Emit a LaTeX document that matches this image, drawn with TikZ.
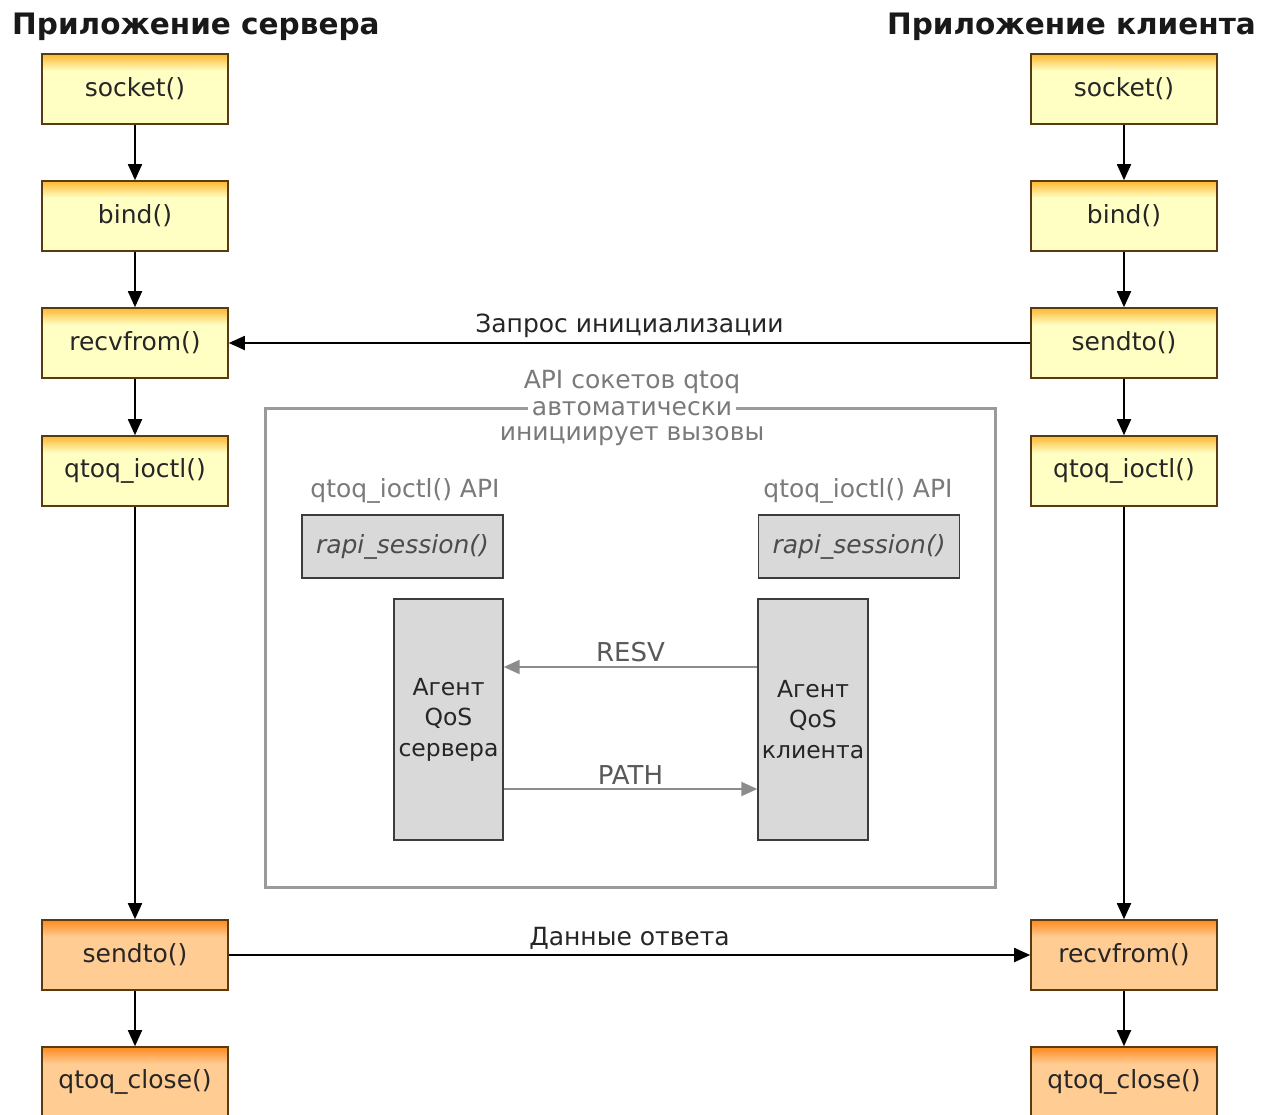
\documentclass[tikz,border=0pt]{standalone}
\usepackage{fontspec}
\setmainfont{DejaVu Sans}
\usetikzlibrary{arrows.meta}
\definecolor{ylight}{HTML}{FFFFC4}
\definecolor{yedge}{HTML}{FFB830}
\definecolor{olight}{HTML}{FFCC94}
\definecolor{oedge}{HTML}{FF8A1E}
\definecolor{bstroke}{HTML}{5A3A10}
\definecolor{gfill}{HTML}{D9D9D9}
\definecolor{gstroke}{HTML}{3C3C3C}
\definecolor{frame}{HTML}{9A9A9A}
\definecolor{gtext}{HTML}{7A7A7A}
\definecolor{garrow}{HTML}{8C8C8C}
\pgfdeclareverticalshading{yglow}{100bp}{color(0bp)=(ylight); color(25bp)=(ylight); color(63bp)=(ylight); color(75bp)=(yedge); color(100bp)=(yedge)}
\pgfdeclareverticalshading{oglow}{100bp}{color(0bp)=(olight); color(25bp)=(olight); color(63bp)=(olight); color(75bp)=(oedge); color(100bp)=(oedge)}
\begin{document}
\begin{tikzpicture}[x=1pt,y=-1pt,
  fbox/.style={draw=bstroke, line width=1.6pt, minimum width=186pt, minimum height=70pt, inner sep=0pt, font=\fontsize{25}{28}\selectfont, text=black!85},
  ybox/.style={fbox, shading=yglow},
  obox/.style={fbox, shading=oglow},
  arr/.style={line width=1.8pt, -{Triangle[width=14pt,length=16pt]}},
  garr/.style={draw=garrow, line width=2pt, -{Triangle[width=14pt,length=16pt]}, garrow},
  gbox/.style={draw=gstroke, fill=gfill, line width=1.4pt, inner sep=0pt},
  heading/.style={font=\bfseries\fontsize{29.5}{32}\selectfont, text=black!90, inner sep=0pt},
  lbl/.style={font=\fontsize{25}{28}\selectfont, text=black!85, inner sep=0pt},
  glbl/.style={font=\fontsize{25}{28}\selectfont, text=gtext, inner sep=0pt},
]
\useasboundingbox[fill=white] (0,0) rectangle (1268,1114);

% headings
\node[heading, anchor=west] (hs) at (12,27) {Приложение сервера};
\node[heading, anchor=east] (hc) at (1256,27) {Приложение клиента};

% server column
\node[ybox] (s1) at (135,89) {socket()};
\node[ybox] (s2) at (135,216) {bind()};
\node[ybox] (s3) at (135,343) {recvfrom()};
\node[ybox] (s4) at (135,471) {qtoq\_ioctl()};
\node[obox] (s5) at (135,955) {sendto()};
\node[obox] (s6) at (135,1082) {qtoq\_close()};

% client column
\node[ybox] (c1) at (1124,89) {socket()};
\node[ybox] (c2) at (1124,216) {bind()};
\node[ybox] (c3) at (1124,343) {sendto()};
\node[ybox] (c4) at (1124,471) {qtoq\_ioctl()};
\node[obox] (c5) at (1124,955) {recvfrom()};
\node[obox] (c6) at (1124,1082) {qtoq\_close()};

\draw[arr] (s1) -- (s2);
\draw[arr] (s2) -- (s3);
\draw[arr] (s3) -- (s4);
\draw[arr] (s4) -- (s5);
\draw[arr] (s5) -- (s6);
\draw[arr] (c1) -- (c2);
\draw[arr] (c2) -- (c3);
\draw[arr] (c3) -- (c4);
\draw[arr] (c4) -- (c5);
\draw[arr] (c5) -- (c6);

\draw[arr] (c3.west) -- node[lbl, above=4pt] {Запрос инициализации} (s3.east);
\draw[arr] (s5.east) -- node[lbl, above=5pt] {Данные ответа} (c5.west);

% central frame
\draw[draw=frame, line width=3pt] (265,408) rectangle (995,887);
\node[glbl] (t1) at (632,382) {API сокетов qtoq};
\node[glbl, fill=white, inner xsep=4pt, inner ysep=2pt] (t2) at (632,409) {автоматически};
\node[glbl] (t3) at (632,436) {инициирует вызовы};

\node[glbl] (la) at (405,491) {qtoq\_ioctl() API};
\node[glbl] (lb) at (858,491) {qtoq\_ioctl() API};
\node[gbox, minimum width=201pt, minimum height=63pt, font=\itshape\fontsize{25}{28}\selectfont, text=black!70] (ra) at (402.5,546.5) {rapi\_session()};
\node[gbox, minimum width=201pt, minimum height=63pt, font=\itshape\fontsize{25}{28}\selectfont, text=black!70] (rb) at (859,546.5) {rapi\_session()};

\node[gbox, minimum width=109pt, minimum height=241pt, align=center, font=\fontsize{23.5}{30.5}\selectfont, text=black!85] (qa) at (448.5,719.5) {Агент\\QoS\\сервера};
\node[gbox, minimum width=110pt, minimum height=241pt, align=center, font=\fontsize{23.5}{30.5}\selectfont, text=black!85] (qb) at (813,719.5) {Агент\\QoS\\клиента};

\draw[garr] (qb.west |- 0,667) -- node[glbl, above=4pt, text=black!65, font=\fontsize{26}{28}\selectfont] {RESV} (qa.east |- 0,667);
\draw[garr] (qa.east |- 0,789) -- node[glbl, above=4pt, text=black!65, font=\fontsize{26}{28}\selectfont] {PATH} (qb.west |- 0,789);
\end{tikzpicture}
\end{document}
